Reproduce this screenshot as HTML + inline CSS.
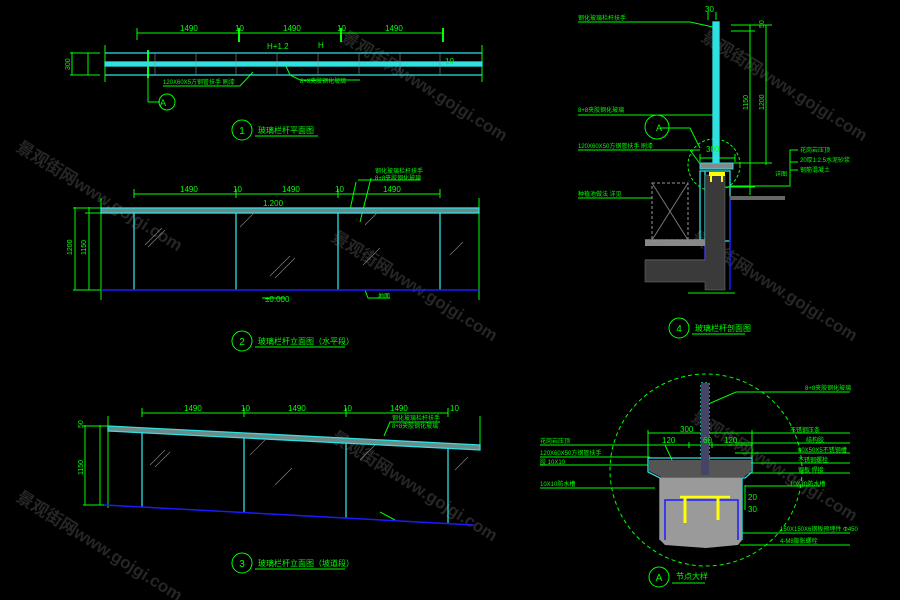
<!DOCTYPE html>
<html><head><meta charset="utf-8"><style>
html,body{margin:0;padding:0;background:#000;}
svg{display:block;}
text{font-family:"Liberation Sans","Noto Sans CJK SC",sans-serif;}
</style></head><body>
<svg width="900" height="600" viewBox="0 0 900 600" xmlns="http://www.w3.org/2000/svg">
<rect width="900" height="600" fill="#000"/>
<!-- watermarks -->
<g fill="#262626" font-size="17" font-weight="bold">
<text transform="translate(15,500) rotate(32)">景观街网www.gojgi.com</text>
<text transform="translate(15,150) rotate(32)">景观街网www.gojgi.com</text>
<text transform="translate(340,40) rotate(32)">景观街网www.gojgi.com</text>
<text transform="translate(330,240) rotate(32)">景观街网www.gojgi.com</text>
<text transform="translate(330,440) rotate(32)">景观街网www.gojgi.com</text>
<text transform="translate(700,40) rotate(32)">景观街网www.gojgi.com</text>
<text transform="translate(690,240) rotate(32)">景观街网www.gojgi.com</text>
<text transform="translate(690,420) rotate(32)">景观街网www.gojgi.com</text>
</g>

<g stroke="#00ff00" fill="none" stroke-width="1">
<line x1="137" y1="33" x2="443" y2="33"/>
<line x1="137" y1="28" x2="137" y2="40"/><line x1="239" y1="28" x2="239" y2="42" stroke-width="2"/><line x1="341" y1="28" x2="341" y2="42" stroke-width="2"/><line x1="443" y1="28" x2="443" y2="42" stroke-width="2"/>
<line x1="105" y1="45" x2="105" y2="82"/><line x1="482" y1="45" x2="482" y2="82"/>
<line x1="72" y1="52" x2="72" y2="75"/><line x1="70" y1="53" x2="100" y2="53"/><line x1="70" y1="75" x2="100" y2="75"/>
<line x1="88" y1="53" x2="88" y2="75"/>
<line x1="148" y1="50" x2="148" y2="78" stroke-width="2"/>
<line x1="148" y1="78" x2="148" y2="102"/><line x1="148" y1="102" x2="160" y2="102"/>
<circle cx="167" cy="102" r="8"/>
<polyline points="163,86 240,86 253,72"/>
<polyline points="285,64 290,75 300,80 360,80"/>
<line x1="134" y1="194" x2="440" y2="194"/>
<line x1="134" y1="189" x2="134" y2="198"/><line x1="236" y1="189" x2="236" y2="198"/><line x1="338" y1="189" x2="338" y2="198"/><line x1="440" y1="189" x2="440" y2="198"/>
<line x1="101" y1="198" x2="101" y2="300"/><line x1="479" y1="198" x2="479" y2="300"/>
<line x1="75" y1="207" x2="75" y2="290"/><line x1="89" y1="207" x2="89" y2="290"/>
<line x1="73" y1="208" x2="101" y2="208"/><line x1="73" y1="290" x2="101" y2="290"/><line x1="85" y1="213" x2="101" y2="213"/>
<polyline points="356,182 350,210"/><polyline points="371,178 360,222"/>
<line x1="358" y1="180" x2="420" y2="180"/>
<line x1="262" y1="298" x2="285" y2="298"/>
<polyline points="365,290 368,298 390,298"/>
<line x1="142" y1="413" x2="448" y2="413"/>
<line x1="142" y1="408" x2="142" y2="417"/><line x1="244" y1="408" x2="244" y2="417"/><line x1="346" y1="408" x2="346" y2="417"/><line x1="448" y1="408" x2="448" y2="417"/>
<line x1="108" y1="416" x2="108" y2="508"/><line x1="480" y1="416" x2="480" y2="450"/>
<line x1="85" y1="425" x2="85" y2="505"/><line x1="100" y1="425" x2="100" y2="505"/>
<line x1="83" y1="426" x2="108" y2="426"/><line x1="83" y1="505" x2="108" y2="505"/>
<polyline points="384,436 390,422 440,422"/>
<polyline points="380,512 395,520"/>
<line x1="578" y1="22" x2="690" y2="22"/><polyline points="690,22 713,27"/>
<line x1="578" y1="115" x2="716" y2="115"/>
<line x1="578" y1="150" x2="700" y2="150"/><polyline points="690,150 703,168"/>
<line x1="578" y1="198" x2="652" y2="198"/>
<line x1="750" y1="25" x2="750" y2="195"/><line x1="766" y1="25" x2="766" y2="165"/>
<line x1="731" y1="25" x2="772" y2="25"/><line x1="731" y1="31" x2="755" y2="31"/><line x1="720" y1="163" x2="772" y2="163"/><line x1="720" y1="187" x2="755" y2="187"/>
<line x1="708" y1="12" x2="708" y2="20"/><line x1="716" y1="12" x2="716" y2="20"/>
<polyline points="793,150 790,150 790,186 730,186"/>
<line x1="790" y1="150" x2="798" y2="150"/><line x1="790" y1="162" x2="798" y2="162"/><line x1="790" y1="170" x2="798" y2="170"/>
<polyline points="660,128 690,128 700,148"/>
<circle cx="657" cy="127" r="12"/>
<circle cx="714" cy="165" r="26" stroke-dasharray="3,2"/>
<line x1="700" y1="158" x2="735" y2="158"/>
<line x1="700" y1="154" x2="700" y2="162"/><line x1="735" y1="154" x2="735" y2="162"/>
<line x1="688" y1="293" x2="735" y2="293"/>
<circle cx="706" cy="470" r="96" stroke-dasharray="4,3"/>
<line x1="648" y1="433" x2="752" y2="433"/>
<line x1="648" y1="445" x2="752" y2="445"/>
<line x1="648" y1="430" x2="648" y2="460"/><line x1="752" y1="430" x2="752" y2="460"/>
<line x1="689" y1="442" x2="689" y2="448"/><line x1="712" y1="442" x2="712" y2="448"/>
<polyline points="706,405 736,392 850,392"/>
<line x1="540" y1="445" x2="665" y2="445"/><polyline points="665,445 672,460"/>
<line x1="540" y1="457" x2="650" y2="457"/>
<line x1="540" y1="465" x2="648" y2="465"/>
<line x1="540" y1="488" x2="655" y2="488"/>
<line x1="725" y1="433" x2="850" y2="433"/>
<line x1="735" y1="443" x2="850" y2="443"/>
<line x1="735" y1="453" x2="850" y2="453"/>
<line x1="740" y1="463" x2="850" y2="463"/>
<line x1="740" y1="473" x2="850" y2="473"/>
<line x1="745" y1="486" x2="820" y2="486"/>
<line x1="740" y1="533" x2="850" y2="533"/>
<line x1="740" y1="545" x2="850" y2="545"/>
<line x1="745" y1="485" x2="745" y2="510"/>
<circle cx="242" cy="130" r="10"/><line x1="255" y1="136" x2="318" y2="136"/>
<circle cx="242" cy="341" r="10"/><line x1="255" y1="347" x2="345" y2="347"/>
<circle cx="242" cy="563" r="10"/><line x1="255" y1="569" x2="345" y2="569"/>
<circle cx="679" cy="328" r="10"/><line x1="692" y1="334" x2="745" y2="334"/>
<circle cx="659" cy="577" r="10"/><line x1="672" y1="583" x2="705" y2="583"/>
</g>

<g stroke="#2fe0e0" fill="none" stroke-width="1.3">
<line x1="105" y1="53" x2="482" y2="53"/><line x1="105" y1="75" x2="482" y2="75"/>
<rect x="105" y="62" width="377" height="4" fill="#2fe0e0"/>
<rect x="101" y="208" width="378" height="5" fill="#6b8a8a"/>
<line x1="134" y1="213" x2="134" y2="290"/><line x1="236" y1="213" x2="236" y2="290"/><line x1="338" y1="213" x2="338" y2="290"/><line x1="440" y1="213" x2="440" y2="290"/>
<polygon points="108,426 480,445 480,450 108,431" fill="#6b8a8a"/>
<line x1="142" y1="433" x2="142" y2="507"/><line x1="244" y1="438" x2="244" y2="513"/><line x1="346" y1="443" x2="346" y2="518"/><line x1="448" y1="448" x2="448" y2="523"/>
<rect x="713" y="22" width="6" height="143" fill="#2fe0e0"/>
<rect x="700" y="171" width="30" height="70" />
<polyline points="705,171 705,240 645,240"/>
<rect x="701" y="383" width="8" height="92" stroke-dasharray="2,2"/>
<polygon points="648,458 752,458 752,472 745,478 660,478 648,472"/>
<polyline points="660,478 660,540"/><polyline points="742,478 742,540"/>
</g>
<g stroke="#8a8a8a" stroke-width="0.6">
<line x1="155" y1="53" x2="155" y2="75"/><line x1="196" y1="53" x2="196" y2="75"/><line x1="236" y1="53" x2="236" y2="75"/><line x1="277" y1="53" x2="277" y2="75"/><line x1="318" y1="53" x2="318" y2="75"/><line x1="359" y1="53" x2="359" y2="75"/><line x1="400" y1="53" x2="400" y2="75"/><line x1="440" y1="53" x2="440" y2="75"/>
</g>
<g stroke="#1a1aff" stroke-width="1.5" fill="none">
<line x1="101" y1="290" x2="479" y2="290"/>
<line x1="104" y1="505" x2="474" y2="525"/>
<polyline points="705,240 705,260 645,260"/>
<polyline points="730,196 730,290"/>
</g>
<g stroke="#888" stroke-width="0.6">
<line x1="145" y1="245" x2="162" y2="228"/><line x1="148" y1="247" x2="165" y2="230"/><line x1="270" y1="276" x2="290" y2="256"/><line x1="275" y1="278" x2="295" y2="258"/><line x1="240" y1="227" x2="255" y2="212"/><line x1="365" y1="225" x2="378" y2="212"/><line x1="363" y1="265" x2="380" y2="248"/><line x1="450" y1="255" x2="463" y2="242"/>
<line x1="150" y1="465" x2="165" y2="450"/><line x1="155" y1="467" x2="170" y2="452"/><line x1="275" y1="485" x2="292" y2="468"/><line x1="250" y1="455" x2="265" y2="440"/><line x1="360" y1="460" x2="375" y2="445"/><line x1="455" y1="470" x2="468" y2="457"/>
</g>
<polygon points="705,175 725,175 725,290 705,290 705,282 645,282 645,260 705,260" fill="#3a3a3a" stroke="#777" stroke-width="0.5"/>
<rect x="645" y="240" width="60" height="6" fill="#888"/>
<rect x="652" y="183" width="36" height="57" fill="none" stroke="#999" stroke-dasharray="3,2"/>
<line x1="652" y1="183" x2="688" y2="240" stroke="#777"/><line x1="688" y1="183" x2="652" y2="240" stroke="#777"/>
<rect x="730" y="196" width="55" height="4" fill="#666"/>
<rect x="700" y="163" width="33" height="6" fill="#888" stroke="#2fe0e0"/>
<rect x="709" y="172" width="16" height="4" fill="#ffff00"/>
<line x1="711" y1="172" x2="711" y2="182" stroke="#ffff00" stroke-width="2"/><line x1="722" y1="172" x2="722" y2="182" stroke="#ffff00" stroke-width="2"/>
<polygon points="660,478 742,478 742,540 738,545 706,548 665,545 660,540" fill="#9a9a9a"/>
<g stroke="#1a1aff" stroke-width="1.5" fill="none"><polyline points="665,540 665,500 738,500 738,540"/></g>
<polygon points="649,460 751,460 751,471 744,477 661,477 649,471" fill="#555"/>
<rect x="701" y="383" width="8" height="92" fill="#446"/>
<line x1="680" y1="497" x2="730" y2="497" stroke="#ffff00" stroke-width="2.5"/>
<line x1="685" y1="497" x2="685" y2="523" stroke="#ffff00" stroke-width="3"/><line x1="718" y1="497" x2="718" y2="520" stroke="#ffff00" stroke-width="3"/>

<g fill="#00ff00" font-size="8">
<text x="180" y="31">1490</text><text x="235" y="31">10</text><text x="283" y="31">1490</text><text x="337" y="31">10</text><text x="385" y="31">1490</text>
<text x="267" y="49">H+1.2</text><text x="318" y="48">H</text><text x="445" y="64">10</text>
<text x="163" y="84" font-size="6">120X60X5方钢管扶手 刷漆</text><text x="300" y="83" font-size="6">8+8夹胶钢化玻璃</text>
<text x="163" y="106" font-size="9" text-anchor="middle">A</text>
<text x="242" y="134" font-size="10" text-anchor="middle">1</text><text x="258" y="133" font-size="8">玻璃栏杆平面图</text>
<text x="180" y="192">1490</text><text x="233" y="192">10</text><text x="282" y="192">1490</text><text x="335" y="192">10</text><text x="383" y="192">1490</text>
<text x="263" y="206">1.200</text><text x="265" y="302">±0.000</text><text x="378" y="298" font-size="6">地面</text>
<text x="375" y="173" font-size="6">钢化玻璃栏杆扶手</text><text x="375" y="180" font-size="6">8+8夹胶钢化玻璃</text>
<text x="242" y="345" font-size="10" text-anchor="middle">2</text><text x="258" y="344" font-size="8">玻璃栏杆立面图（水平段）</text>
<text x="184" y="411">1490</text><text x="241" y="411">10</text><text x="288" y="411">1490</text><text x="343" y="411">10</text><text x="390" y="411">1490</text><text x="450" y="411">10</text>
<text x="392" y="420" font-size="6">钢化玻璃栏杆扶手</text><text x="392" y="428" font-size="6">8+8夹胶钢化玻璃</text>
<text x="242" y="567" font-size="10" text-anchor="middle">3</text><text x="258" y="566" font-size="8">玻璃栏杆立面图（坡道段）</text>
<text x="705" y="12">30</text><text x="578" y="20" font-size="6">钢化玻璃栏杆扶手</text><text x="578" y="112" font-size="6">8+8夹胶钢化玻璃</text>
<text x="578" y="148" font-size="6">120X60X50方钢管扶手 刷漆</text><text x="578" y="196" font-size="6">种植池做法 详见</text>
<text x="706" y="152">300</text><text x="659" y="131" font-size="9" text-anchor="middle">A</text>
<text x="800" y="152" font-size="6">花岗岩压顶</text><text x="800" y="162" font-size="6">20厚1:2.5水泥砂浆</text><text x="800" y="172" font-size="6">钢筋混凝土</text>
<text x="775" y="176" font-size="6">详图</text>
<text x="679" y="332" font-size="10" text-anchor="middle">4</text><text x="695" y="331" font-size="8">玻璃栏杆剖面图</text>
<text x="680" y="432">300</text><text x="662" y="443">120</text><text x="703" y="443">60</text><text x="724" y="443">120</text>
<text x="748" y="500">20</text><text x="748" y="512">30</text>
<text x="805" y="390" font-size="6">8+8夹胶钢化玻璃</text>
<text x="790" y="432" font-size="6">不锈钢压条</text><text x="806" y="442" font-size="6">结构胶</text><text x="798" y="452" font-size="6">80X50X5不锈钢槽</text><text x="798" y="462" font-size="6">不锈钢螺栓</text><text x="798" y="472" font-size="6">钢板 焊接</text>
<text x="790" y="486" font-size="6">10X10防水槽</text>
<text x="540" y="443" font-size="6">花岗岩压顶</text><text x="540" y="455" font-size="6">120X60X50方钢管扶手</text><text x="540" y="464" font-size="6">胶 10X10</text><text x="540" y="486" font-size="6">10X10防水槽</text>
<text x="780" y="531" font-size="6">150X150X6钢板预埋件 Φ450</text><text x="780" y="543" font-size="6">4-M8膨胀螺栓</text>
<text x="659" y="581" font-size="10" text-anchor="middle">A</text><text x="676" y="579" font-size="8">节点大样</text>
</g>
<g fill="#00ff00" font-size="7">
<text transform="translate(70,70) rotate(-90)">300</text>
<text transform="translate(72,255) rotate(-90)">1200</text><text transform="translate(86,255) rotate(-90)">1150</text>
<text transform="translate(83,475) rotate(-90)">1150</text><text transform="translate(83,428) rotate(-90)">50</text>
<text transform="translate(748,110) rotate(-90)">1150</text><text transform="translate(764,110) rotate(-90)">1200</text><text transform="translate(764,28) rotate(-90)">50</text>
</g>
</svg>
</body></html>
